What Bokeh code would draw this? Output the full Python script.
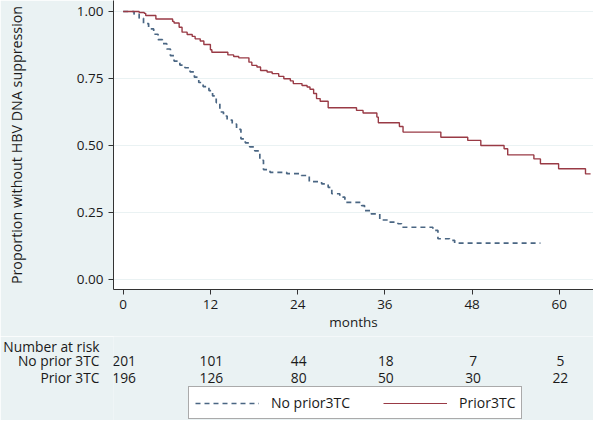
from bokeh.plotting import figure
from bokeh.layouts import column
from bokeh.models import Range1d, FixedTicker, Label, Legend, LegendItem, NumeralTickFormatter
from bokeh.embed import file_html
from bokeh.resources import INLINE

# ---- data ----
month_ticks = [0, 12, 24, 36, 48, 60]
prop_ticks = [0.0, 0.25, 0.5, 0.75, 1.0]

no_prior_t = [0, 1.5, 2.2, 2.8, 3.5, 4.2, 4.8, 5.4, 6.0, 6.5, 7.0, 7.8, 8.5, 9.2, 9.8,
              10.4, 11.0, 11.8, 12.3, 12.8, 13.3, 13.8, 14.3, 15.0, 15.6, 16.2, 16.8,
              17.4, 18.1, 18.8, 19.3, 20.2, 22.5, 24.5, 25.6, 27.3, 28.2, 28.7, 29.8,
              30.5, 32.8, 33.2, 34.1, 35.3, 36.4, 37.8, 38.3, 42.6, 43.3, 44.9, 45.6, 57.4]
no_prior_s = [1.0, 0.99, 0.975, 0.955, 0.935, 0.915, 0.895, 0.88, 0.86, 0.835, 0.815, 0.80,
              0.79, 0.775, 0.755, 0.735, 0.72, 0.705, 0.685, 0.66, 0.625, 0.61, 0.595, 0.58,
              0.56, 0.525, 0.51, 0.495, 0.48, 0.445, 0.41, 0.40, 0.395, 0.388, 0.365, 0.357,
              0.344, 0.32, 0.307, 0.288, 0.276, 0.257, 0.245, 0.222, 0.214, 0.208, 0.195,
              0.183, 0.152, 0.146, 0.136, 0.136]

prior_t = [0, 2.2, 2.9, 3.1, 4.5, 6.8, 7.0, 7.7, 8.1, 8.8, 9.5, 9.9, 10.6, 11.1, 12.0, 12.2,
           14.4, 15.2, 15.9, 17.3, 17.7, 18.4, 18.9, 19.8, 20.5, 21.4, 22.1, 23.0, 23.4,
           24.6, 25.3, 25.7, 26.2, 26.6, 27.1, 28.2, 32.1, 33.0, 34.9, 35.1, 38.0, 38.5,
           43.7, 47.4, 49.2, 52.4, 52.9, 56.5, 57.4, 59.9, 63.6, 64.3]
prior_s = [1.0, 0.996, 0.993, 0.985, 0.972, 0.963, 0.957, 0.941, 0.923, 0.914, 0.907, 0.898,
           0.89, 0.877, 0.857, 0.848, 0.838, 0.832, 0.827, 0.811, 0.799, 0.793, 0.78, 0.774,
           0.768, 0.758, 0.749, 0.741, 0.731, 0.724, 0.718, 0.71, 0.694, 0.675, 0.665, 0.641,
           0.631, 0.621, 0.606, 0.585, 0.571, 0.55, 0.531, 0.519, 0.50, 0.488, 0.465, 0.45,
           0.432, 0.413, 0.394, 0.394]

risk_title = "Number at risk"
risk_groups = ["No prior 3TC", "Prior 3TC"]
risk_no_prior = [201, 101, 44, 18, 7, 5]
risk_prior = [196, 126, 80, 50, 30, 22]
legend_labels = ["No prior3TC", "Prior3TC"]

# ---- styling ----
FONT = "Open Sans"
TXT = "#1a1a1a"
BG = "#eaf2f3"
BLUE = "#4a6683"
RED = "#993a45"
FS = "13.5px"
W = 593
LEFT = 111
H1 = 336
H2 = 420 - H1

X0, X1 = -1.33, 64.7
p = figure(width=W, height=H1, output_backend="svg", toolbar_location=None,
           x_range=Range1d(X0, X1), y_range=Range1d(-0.0373, 1.041),
           min_border_left=LEFT, min_border_right=0, min_border_top=0, min_border_bottom=H1 - 289)
p.background_fill_color = "white"
p.border_fill_color = BG
p.outline_line_color = None

dash = "5 4"
r1 = p.step(no_prior_t, no_prior_s, mode="after", line_color=BLUE, line_width=1.7, line_dash=dash)
r2 = p.step(prior_t, prior_s, mode="after", line_color=RED, line_width=1.4)

p.xgrid.grid_line_color = None
p.ygrid.grid_line_color = BG
p.ygrid.grid_line_width = 1.2

for ax in (p.xaxis[0], p.yaxis[0]):
    ax.axis_line_color = "#333333"
    ax.major_tick_line_color = "#333333"
    ax.major_tick_out = 5
    ax.major_tick_in = 0
    ax.minor_tick_line_color = None
    ax.major_label_text_font = FONT
    ax.major_label_text_font_size = FS
    ax.major_label_text_color = TXT
    ax.axis_label_text_font = FONT
    ax.axis_label_text_font_size = FS
    ax.axis_label_text_font_style = "normal"
    ax.axis_label_text_color = TXT

p.xaxis.ticker = FixedTicker(ticks=month_ticks)
p.yaxis.ticker = FixedTicker(ticks=prop_ticks)
p.yaxis.formatter = NumeralTickFormatter(format="0.00")
p.xaxis.axis_label = "months"
p.yaxis.axis_label = "Proportion without HBV DNA suppression"
p.yaxis.axis_label_text_font_size = "14.3px"
p.xaxis.major_label_standoff = 5
p.xaxis.axis_label_standoff = 1
p.yaxis.major_label_standoff = 5
p.yaxis.axis_label_standoff = 48

# ---- number at risk table + legend (second strip sharing the month scale) ----
row_y = [6, 24, 41]
TFS = "13.8px"
p2 = figure(width=W, height=H2, output_backend="svg", toolbar_location=None,
            x_range=p.x_range, y_range=Range1d(H2, 0),
            x_axis_location=None, y_axis_location="left",
            min_border_left=LEFT, min_border_right=0, min_border_top=0, min_border_bottom=0)
p2.background_fill_color = BG
p2.border_fill_color = BG
p2.outline_line_color = None
p2.grid.visible = False

ya = p2.yaxis[0]
ya.ticker = FixedTicker(ticks=row_y)
ya.major_label_overrides = {row_y[0]: risk_title, row_y[1]: risk_groups[0], row_y[2]: risk_groups[1]}
ya.axis_line_color = None
ya.major_tick_line_color = None
ya.minor_tick_line_color = None
ya.major_tick_out = 0
ya.major_tick_in = 0
ya.major_label_standoff = 14
ya.major_label_text_font = FONT
ya.major_label_text_font_size = TFS
ya.major_label_text_color = TXT

for yy, vals in zip(row_y[1:], [risk_no_prior, risk_prior]):
    for t, v in zip(month_ticks, vals):
        p2.add_layout(Label(x=t, y=yy, x_units="data", y_units="data", text=str(v),
                            x_offset=1, text_font=FONT, text_font_size=TFS,
                            text_color=TXT, text_align="center", text_baseline="middle"))

# legend keys: same series, drawn on a range that keeps them out of view
p2.extra_y_ranges = {"keys": Range1d(5, 6)}
d1 = p2.step(no_prior_t, no_prior_s, mode="after", y_range_name="keys",
             line_color=BLUE, line_width=1.3, line_dash=dash)
d2 = p2.step(prior_t, prior_s, mode="after", y_range_name="keys",
             line_color=RED, line_width=1.1)
legend = Legend(items=[LegendItem(label=legend_labels[0], renderers=[d1]),
                       LegendItem(label=legend_labels[1], renderers=[d2])],
                orientation="horizontal", location=(186 - LEFT, 1))
legend.glyph_width = 64
legend.glyph_height = 14
legend.spacing = 33
legend.label_standoff = 12
legend.padding = 6
legend.margin = 0
legend.label_text_font = FONT
legend.label_text_font_size = "14px"
legend.label_text_color = TXT
legend.border_line_color = "#555555"
legend.border_line_width = 1
legend.background_fill_color = "white"
legend.background_fill_alpha = 1.0
p2.add_layout(legend, "center")

layout = column(p, p2, spacing=0)
open("out.html", "w").write(file_html(layout, INLINE))
